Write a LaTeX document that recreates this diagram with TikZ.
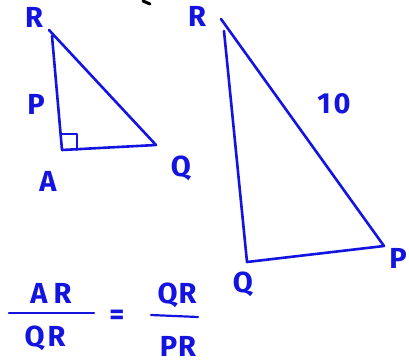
\documentclass[tikz,border=0pt]{standalone}
\usepackage{fontspec}
\setmainfont{Fira Sans}
\definecolor{pen}{RGB}{20,20,225}
\begin{document}
\begin{tikzpicture}[x=1pt,y=-1pt,
  stroke/.style={draw=pen,line width=2.6pt,line cap=round,line join=round},
  lbl/.style={text=pen,inner sep=0pt,font=\fontsize{29}{30}\selectfont\bfseries},
  vtx/.style={inner sep=0pt,minimum size=0pt}]
\useasboundingbox[fill=white] (0,0) rectangle (409,363);
% small triangle
\coordinate (r1) at (49,30);
\coordinate (r1b) at (52,36);
\coordinate (a1) at (62,150);
\coordinate (q1) at (156,145);
\draw[stroke] (r1b) -- (a1) -- (q1) -- (r1);
\draw[stroke,line width=2pt] (62,134) -- (77,134) -- (77,150);
\node[lbl] (lR1) at (34,17) {R};
\node[lbl] (lP1) at (36,104) {P};
\node[lbl] (lA1) at (48,181) {A};
\node[lbl] (lQ1) at (181,168) {Q};
% big triangle
\coordinate (r2) at (221,19);
\coordinate (r2b) at (224,31);
\coordinate (q2) at (247,262);
\coordinate (p2) at (384,246);
\draw[stroke] (r2b) -- (q2) -- (p2) -- (r2);
\node[lbl] (lR2) at (197,16) {R};
\node[lbl] (l10) at (334,104) {1\hspace{3pt}0};
\node[lbl] (lP2) at (398,258) {P};
\node[lbl] (lQ2) at (243,284) {Q};
% ratio
\node[lbl] (AR) at (51,293) {A\hspace{6pt}R};
\coordinate (f1a) at (9,313);
\coordinate (f1b) at (94,313);
\draw[stroke,line width=2.2pt] (f1a) -- (f1b);
\node[lbl] (QR1) at (45,338) {Q\hspace{3pt}R};
\node[lbl] (eq) at (117,317) {=};
\node[lbl] (QR2) at (177,295) {Q\hspace{1pt}R};
\coordinate (f2a) at (151,315);
\coordinate (f2b) at (198,317);
\draw[stroke,line width=2.2pt] (f2a) -- (f2b);
\node[lbl] (PR) at (178,346) {P\hspace{1pt}R};
% stray black mark at top
\draw[line width=3pt,line cap=round] (143,1) -- (150,4);
\end{tikzpicture}
\end{document}
